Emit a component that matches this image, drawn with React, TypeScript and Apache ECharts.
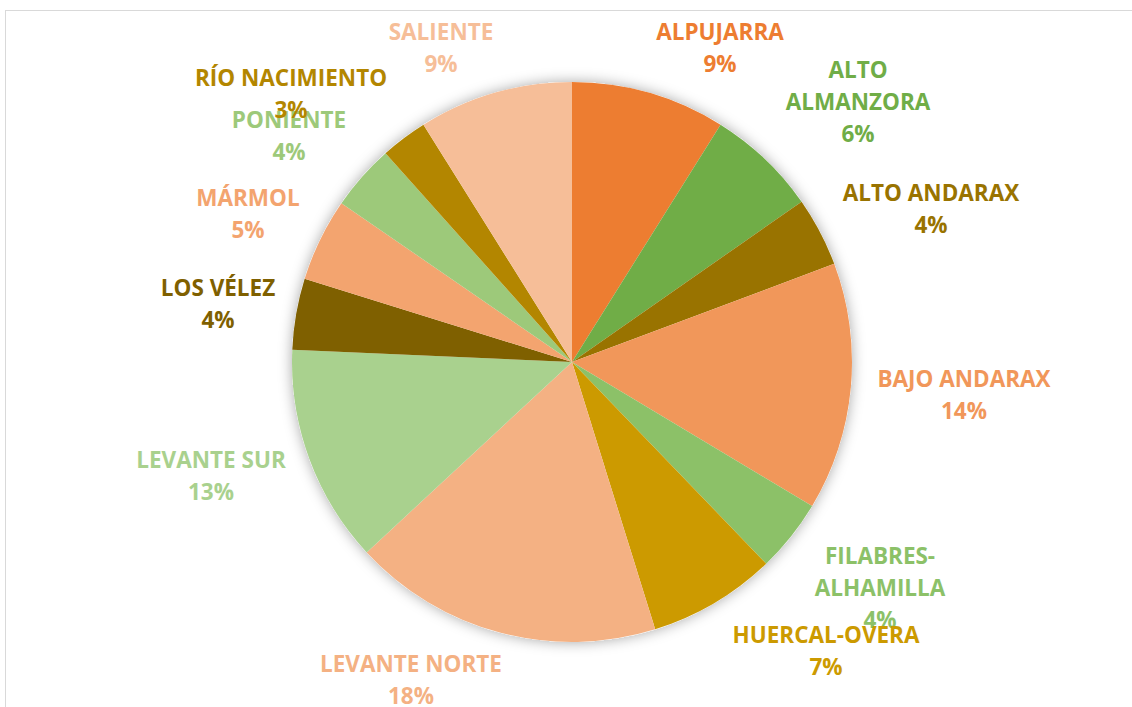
import React, { useEffect, useRef } from "react";
import * as echarts from "echarts";

const categories = [
  "ALPUJARRA",
  "ALTO\nALMANZORA",
  "ALTO ANDARAX",
  "BAJO ANDARAX",
  "FILABRES-\nALHAMILLA",
  "HUERCAL-OVERA",
  "LEVANTE NORTE",
  "LEVANTE SUR",
  "LOS VÉLEZ",
  "MÁRMOL",
  "PONIENTE",
  "RÍO NACIMIENTO",
  "SALIENTE",
];

const values = [8.9, 6.4, 4.0, 14.3, 4.2, 7.4, 17.9, 12.6, 4.1, 4.8, 3.8, 2.7, 8.9];

const colors = [
  "#ED7D31",
  "#70AD47",
  "#997300",
  "#F1975A",
  "#8CC168",
  "#CC9A00",
  "#F4B183",
  "#A9D18E",
  "#7F6000",
  "#F3A46F",
  "#9DC97A",
  "#B38600",
  "#F6BE98",
];

// label centres (layout only)
const labelPos: [number, number][] = [
  [720, 47],
  [858, 101],
  [931, 208],
  [964, 394],
  [880, 587],
  [826, 650],
  [411, 679],
  [211, 475],
  [218, 303],
  [248, 213],
  [289, 135],
  [291, 93],
  [441, 47],
];

export default function App() {
  const ref = useRef<HTMLDivElement>(null);
  useEffect(() => {
    if (!ref.current) return;
    const chart = echarts.init(ref.current, undefined, { renderer: "svg" });
    const total = values.reduce((a, b) => a + b, 0);
    chart.setOption({
      animation: false,
      backgroundColor: "#ffffff",
      series: [
        {
          type: "pie",
          silent: true,
          center: [572, 362],
          radius: 280,
          z: 1,
          label: { show: false },
          labelLine: { show: false },
          itemStyle: {
            color: "#ffffff",
            shadowBlur: 14,
            shadowColor: "rgba(0,0,0,0.35)",
          },
          data: [{ value: 1, name: "" }],
        },
        {
          type: "pie",
          center: [572, 362],
          radius: 280,
          startAngle: 90,
          clockwise: true,
          z: 2,
          itemStyle: { borderWidth: 0 },
          labelLine: { show: false },
          label: {
            show: true,
            position: "outside",
            fontFamily: "Open Sans",
            fontWeight: "bold",
            fontSize: 22.5,
            lineHeight: 32,
            align: "center",
            formatter: (p: any) =>
              p.name + "\n" + Math.round((p.value / total) * 100) + "%",
          },
          labelLayout: (p: any) => {
            const pos = labelPos[p.dataIndex];
            return {
              x: pos[0],
              y: pos[1],
              align: "center",
              verticalAlign: "middle",
            };
          },
          data: categories.map((c, i) => ({
            name: c,
            value: values[i],
            itemStyle: { color: colors[i] },
            label: { color: colors[i] },
          })),
        },
      ],
    });
    return () => chart.dispose();
  }, []);
  return (
    <div style={{ position: "fixed", left: 0, top: 0, width: 1132, height: 707, background: "#fff" }}>
      <div ref={ref} style={{ position: "absolute", left: 0, top: 0, width: 1132, height: 707 }} />
      <div
        style={{
          position: "absolute",
          left: 5,
          top: 10,
          width: 1140,
          height: 710,
          borderLeft: "1.5px solid #d9d9d9",
          borderTop: "1.5px solid #d9d9d9",
          pointerEvents: "none",
        }}
      />
    </div>
  );
}
